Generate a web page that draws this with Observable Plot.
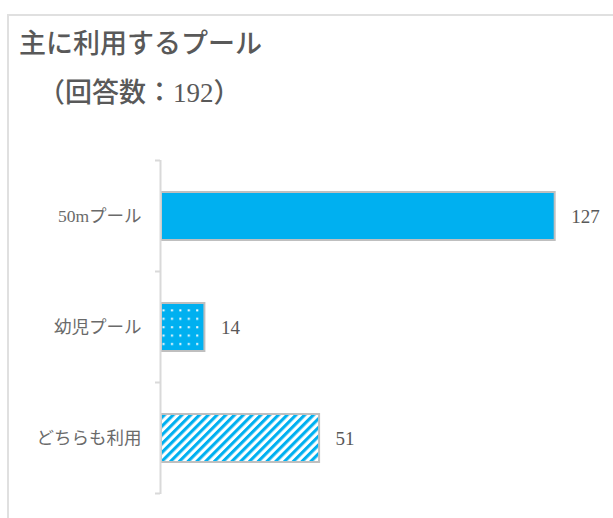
<!DOCTYPE html>
<html><head><meta charset="utf-8">
<script src="https://cdn.jsdelivr.net/npm/d3@7"></script>
<script src="https://cdn.jsdelivr.net/npm/@observablehq/plot@0.6"></script>
<style>
body{margin:0;background:#fff;}
#wrap{position:relative;width:613px;height:518px;overflow:hidden;background:#fff;}
#box{position:absolute;left:7px;top:14px;width:700px;height:600px;border:2px solid #e0e0e0;}
.t{position:absolute;color:#595959;font-family:"Liberation Serif","Noto Sans CJK JP",serif;font-size:27px;font-weight:500;line-height:1;white-space:nowrap;}
#chart{position:absolute;left:0;top:130px;}
</style></head><body>
<div id="wrap"><div id="box"></div>
<div class="t" style="left:19px;top:31px">主に利用するプール</div>
<div class="t" style="left:38px;top:80px">（回答数：192）</div>
<div id="chart"></div></div>
<script>
const categories = ["50mプール", "幼児プール", "どちらも利用"];
const values = [127, 14, 51];
const fillKinds = ["solid", "dots", "stripes"];

const blue = "#00b0f0";
const fillFor = {solid: blue, dots: "url(#pat-dots)", stripes: "url(#pat-stripes)"};
const data = categories.map((c, i) => ({category: c, value: values[i], kind: fillKinds[i]}));

const font = "'Liberation Serif','Noto Sans CJK JP',serif";
const plot = Plot.plot({
  width: 613, height: 388,
  marginTop: 30, marginBottom: 24, marginLeft: 161, marginRight: 18,
  style: {fontFamily: font, background: "transparent", color: "#595959"},
  x: {domain: [0, 140], axis: null},
  y: {domain: categories, paddingInner: 0.57, paddingOuter: 0.285, label: null},
  marks: [
    Plot.barX(data, {y: "category", x: "value", fill: d => fillFor[d.kind], stroke: "#bfbfbf", strokeWidth: 2}),
    Plot.text(data, {y: "category", x: "value", text: d => String(d.value), textAnchor: "start", dx: 16, fill: "#595959", fontSize: 19}),
    Plot.axisY({tickSize: 0, tickPadding: 20, fontSize: 17.5, fill: "#6a6a6a", label: null}),
    Plot.ruleX([0], {stroke: "#d9d9d9", strokeWidth: 2, dx: -1})
  ]
});

const svg = d3.select(plot);
const defs = svg.insert("defs", ":first-child");
const dots = defs.append("pattern").attr("id", "pat-dots").attr("patternUnits", "userSpaceOnUse")
  .attr("width", 8.4).attr("height", 8.4);
dots.append("rect").attr("width", 8.4).attr("height", 8.4).attr("fill", blue);
dots.append("rect").attr("x", 3).attr("y", 3).attr("width", 2).attr("height", 2).attr("fill", "#fff");
const stripes = defs.append("pattern").attr("id", "pat-stripes").attr("patternUnits", "userSpaceOnUse")
  .attr("width", 6.2).attr("height", 6.2).attr("patternTransform", "rotate(45)");
stripes.append("rect").attr("width", 6.2).attr("height", 6.2).attr("fill", "#fff");
stripes.append("rect").attr("width", 3.1).attr("height", 6.2).attr("fill", blue);

// tick marks at category boundaries
const y = plot.scale("y");
const x = plot.scale("x");
const x0 = x.apply(0) - 1;
const pad = (y.step - y.bandwidth) / 2;
const bounds = categories.map(c => y.apply(c) - pad).concat([y.apply(categories[categories.length - 1]) + y.bandwidth + pad]);
svg.append("g").selectAll("line").data(bounds).join("line")
  .attr("x1", x0 - 5).attr("x2", x0).attr("y1", d => d).attr("y2", d => d)
  .attr("stroke", "#d9d9d9").attr("stroke-width", 2);

document.getElementById("chart").append(plot);
</script>
</body></html>
